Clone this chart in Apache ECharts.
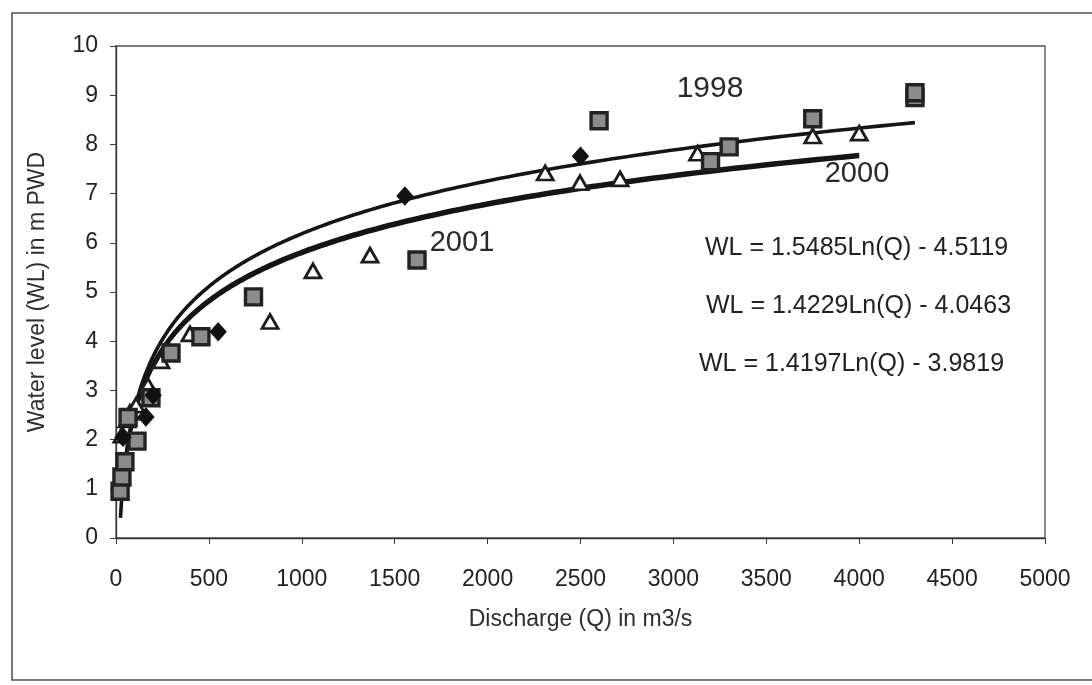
<!DOCTYPE html>
<html>
<head>
<meta charset="utf-8">
<script src="https://cdn.jsdelivr.net/npm/echarts@6/dist/echarts.min.js"></script>
<style>
  html, body { margin: 0; padding: 0; background: #ffffff; }
  #chart { width: 1092px; height: 685px; }
</style>
</head>
<body>
<div id="chart"></div>
<script>
// Rating curve: water level against discharge, with log trendlines

// Observed points [Q (m3/s), WL (m PWD)]
const diamondPoints = [
  [38, 2.05], [161, 2.46], [200, 2.9], [550, 4.19], [1555, 6.95], [2500, 7.76]
];
const trianglePoints = [
  [32, 2.09], [59, 2.4], [75, 2.55], [108, 2.7], [172, 3.1], [242, 3.6],
  [398, 4.15], [829, 4.4], [1060, 5.43], [1367, 5.75], [2310, 7.42],
  [2497, 7.22], [2713, 7.3], [3130, 7.82], [3750, 8.17], [4000, 8.23]
];
const squarePoints = [
  [22, 0.95], [32, 1.24], [48, 1.55], [65, 2.45], [113, 1.97], [188, 2.85],
  [296, 3.76], [457, 4.09], [740, 4.9], [1620, 5.65], [3200, 7.65],
  [3300, 7.95], [2600, 8.48], [3750, 8.52], [4300, 8.95], [4300, 9.05]
];

// Trendline coefficients WL = a*Ln(Q) + b, with the Q range each is drawn over
const trendA = [1.5485, 1.4229, 1.4197];
const trendB = [-4.5119, -4.0463, -3.9819];
const trendQmin = [24, 30, 30];
const trendQmax = [4300, 4000, 4000];

// Text shown on the chart
const yearLabels = ['1998', '2000', '2001'];
const equationLabels = [
  'WL = 1.5485Ln(Q) - 4.5119',
  'WL = 1.4229Ln(Q) - 4.0463',
  'WL = 1.4197Ln(Q) - 3.9819'
];
const xTicks = [0, 500, 1000, 1500, 2000, 2500, 3000, 3500, 4000, 4500, 5000];
const yTicks = [0, 1, 2, 3, 4, 5, 6, 7, 8, 9, 10];

// Evaluate a log trendline along the Q range (log-spaced samples for the steep start)
function trendCurve(i) {
  const pts = [];
  const n = 240;
  const l0 = Math.log(trendQmin[i]), l1 = Math.log(trendQmax[i]);
  for (let k = 0; k <= n; k++) {
    const q = Math.exp(l0 + (l1 - l0) * k / n);
    pts.push([q, trendA[i] * Math.log(q) + trendB[i]]);
  }
  return pts;
}

const FONT = '"Liberation Sans", Arial, sans-serif';
const INK = '#1c1c1c';

const chart = echarts.init(document.getElementById('chart'), null, { renderer: 'canvas' });

const lineSeries = trendA.map((a, i) => ({
  type: 'line',
  data: trendCurve(i),
  showSymbol: false,
  smooth: false,
  z: 3,
  lineStyle: { color: '#151515', width: 3.6 },
  silent: true
}));

chart.setOption({
  animation: false,
  backgroundColor: '#ffffff',
  grid: {
    left: 116, top: 46, right: 47, bottom: 147,
    show: true, borderColor: '#505050', borderWidth: 1.3, backgroundColor: 'transparent'
  },
  xAxis: {
    type: 'value', min: 0, max: 5000, interval: 500,
    name: 'Discharge (Q) in m3/s', nameLocation: 'middle', nameGap: 70,
    nameTextStyle: { fontFamily: FONT, fontSize: 23, color: '#2e2e2e' },
    axisLine: { show: true, onZero: false, lineStyle: { color: '#3a3a3a', width: 1.3 } },
    axisTick: { show: true, length: 6, inside: false, lineStyle: { color: '#3a3a3a' } },
    axisLabel: {
      fontFamily: FONT, fontSize: 23, color: '#222', margin: 30,
      formatter: v => (xTicks.includes(v) ? String(v) : '')
    },
    splitLine: { show: false }
  },
  yAxis: {
    type: 'value', min: 0, max: 10, interval: 1,
    name: 'Water level (WL) in m PWD', nameLocation: 'middle', nameGap: 67,
    nameTextStyle: { fontFamily: FONT, fontSize: 23, color: '#2e2e2e' },
    axisLine: { show: true, onZero: false, lineStyle: { color: '#3a3a3a', width: 1.3 } },
    axisTick: { show: true, length: 6, inside: false, lineStyle: { color: '#3a3a3a' } },
    axisLabel: {
      fontFamily: FONT, fontSize: 23, color: '#222', margin: 18,
      formatter: v => (yTicks.includes(v) ? String(v) : '')
    },
    splitLine: { show: false }
  },
  series: [
    ...lineSeries,
    {
      type: 'scatter', data: trianglePoints, symbol: 'triangle', symbolSize: [16, 14], z: 4,
      itemStyle: { color: '#ffffff', borderColor: INK, borderWidth: 2.8, opacity: 1 }
    },
    {
      type: 'scatter', data: squarePoints, symbol: 'rect', symbolSize: 16, z: 5,
      itemStyle: { color: '#8c8c8c', borderColor: '#222222', borderWidth: 3.4, opacity: 1 }
    },
    {
      type: 'scatter', data: diamondPoints, symbol: 'diamond', symbolSize: [16, 18], z: 6,
      itemStyle: { color: '#111111', borderColor: '#111111', borderWidth: 1, opacity: 1 }
    }
  ],
  graphic: [
    // outer chart frame
    {
      type: 'rect', shape: { x: 12, y: 13, width: 1090, height: 667 },
      style: { fill: 'none', stroke: '#555555', lineWidth: 1.6 }, z: 0
    },
    { type: 'text', x: 710, y: 89, style: { text: yearLabels[0], font: '30px ' + FONT, fill: '#2a2a2a', align: 'center', verticalAlign: 'middle' } },
    { type: 'text', x: 857, y: 174, style: { text: yearLabels[1], font: '29px ' + FONT, fill: '#2a2a2a', align: 'center', verticalAlign: 'middle' } },
    { type: 'text', x: 462, y: 243, style: { text: yearLabels[2], font: '29px ' + FONT, fill: '#2a2a2a', align: 'center', verticalAlign: 'middle' } },
    { type: 'text', x: 705, y: 248, style: { text: equationLabels[0], font: '25px ' + FONT, fill: '#222', verticalAlign: 'middle' } },
    { type: 'text', x: 706, y: 306, style: { text: equationLabels[1], font: '25px ' + FONT, fill: '#222', verticalAlign: 'middle' } },
    { type: 'text', x: 699, y: 364, style: { text: equationLabels[2], font: '25px ' + FONT, fill: '#222', verticalAlign: 'middle' } }
  ]
});
</script>
</body>
</html>
